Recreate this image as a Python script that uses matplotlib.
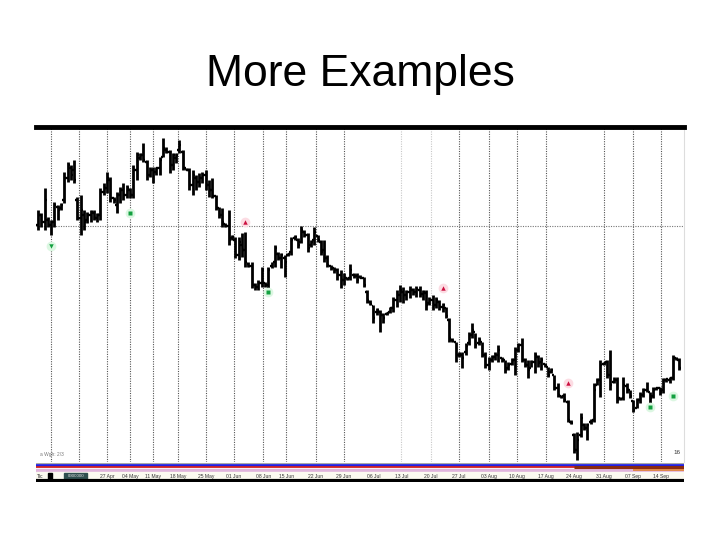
import matplotlib
matplotlib.use("Agg")
import matplotlib.pyplot as plt
from matplotlib.patches import Rectangle

plt.rcParams['font.family'] = ['Liberation Sans', 'DejaVu Sans']

# daily OHLC bars (price units)
highs = [39.0, 38.7, 41.2, 38.3, 38.0, 39.8, 39.5, 39.7, 42.8, 43.8,
         43.5, 44.0, 40.3, 40.5, 39.0, 38.8, 39.0, 39.0, 38.7, 41.2,
         41.7, 42.8, 42.3, 40.3, 40.8, 41.3, 41.7, 41.5, 41.2, 43.5,
         44.8, 44.7, 45.7, 44.0, 43.3, 43.3, 43.3, 44.3, 46.2, 45.3,
         45.0, 44.7, 44.7, 46.0, 45.0, 43.2, 43.2, 43.0, 42.5, 42.7,
         42.8, 43.0, 42.0, 42.2, 40.5, 39.3, 39.2, 37.7, 39.0, 36.5,
         36.3, 36.3, 36.7, 36.8, 33.8, 33.8, 31.7, 32.0, 33.3, 31.8,
         33.3, 33.8, 35.5, 34.8, 34.7, 34.5, 34.7, 36.3, 36.5, 36.2,
         37.4, 37.0, 36.7, 36.0, 37.3, 36.5, 36.0, 36.0, 34.5, 33.5,
         33.3, 33.2, 33.0, 32.7, 32.3, 33.6, 32.7, 32.7, 32.5, 32.3,
         31.0, 30.0, 29.5, 29.2, 29.0, 28.7, 28.8, 29.3, 30.3, 31.0,
         31.5, 31.3, 31.0, 31.4, 31.2, 31.4, 31.4, 31.0, 31.0, 30.3,
         30.5, 30.3, 30.0, 29.7, 29.3, 28.2, 26.2, 25.8, 24.8, 24.8,
         25.7, 26.8, 27.7, 26.7, 26.3, 25.8, 24.8, 24.3, 24.5, 24.8,
         25.5, 24.3, 24.0, 23.8, 24.2, 25.3, 25.7, 26.2, 24.2, 24.0,
         24.0, 24.8, 24.5, 24.3, 23.7, 23.3, 23.2, 22.5, 21.7, 20.5,
         20.7, 20.0, 18.0, 16.7, 16.8, 18.7, 17.7, 17.7, 18.1, 21.7,
         22.2, 24.0, 23.8, 24.0, 25.0, 22.3, 22.3, 20.3, 22.3, 21.7,
         21.0, 20.0, 20.2, 20.8, 21.2, 21.8, 20.8, 21.3, 21.3, 21.3,
         22.2, 22.2, 22.3, 24.5, 24.3, 24.2]
lows = [37.0, 37.3, 37.0, 37.3, 36.5, 37.3, 38.0, 39.0, 39.7, 41.8,
        42.0, 41.7, 38.0, 36.5, 37.0, 37.7, 37.8, 38.0, 37.8, 38.0,
        40.5, 40.7, 39.8, 39.7, 38.7, 39.7, 40.0, 40.2, 40.2, 40.2,
        42.0, 44.0, 43.8, 42.0, 42.3, 41.7, 42.5, 42.5, 44.3, 44.7,
        42.7, 43.0, 43.7, 44.7, 43.0, 43.0, 41.0, 40.5, 41.0, 41.3,
        41.7, 41.0, 40.3, 40.2, 39.0, 38.2, 37.3, 37.3, 35.5, 36.0,
        34.2, 34.0, 34.3, 33.3, 33.3, 31.2, 31.0, 31.0, 31.3, 31.3,
        30.7, 33.2, 33.3, 34.0, 33.2, 32.3, 34.4, 34.5, 36.0, 35.2,
        35.7, 36.3, 34.8, 35.3, 35.5, 35.8, 34.5, 33.8, 33.3, 33.0,
        32.7, 32.0, 31.2, 31.5, 32.0, 32.0, 32.2, 31.7, 32.2, 31.3,
        29.7, 29.5, 27.7, 28.5, 26.8, 27.7, 28.5, 28.7, 28.8, 29.3,
        29.8, 29.7, 30.0, 30.2, 30.5, 30.3, 30.3, 30.0, 29.0, 29.5,
        29.0, 29.2, 29.0, 28.8, 28.2, 25.8, 25.8, 23.8, 24.3, 23.2,
        24.5, 25.5, 26.2, 25.2, 25.5, 24.3, 23.2, 23.0, 23.8, 24.0,
        23.8, 23.8, 22.7, 23.0, 23.5, 22.5, 24.8, 23.8, 23.3, 22.2,
        23.3, 22.7, 23.3, 23.0, 23.3, 22.3, 22.7, 21.0, 20.3, 20.2,
        19.8, 17.8, 17.6, 14.7, 14.0, 16.3, 17.0, 16.0, 17.6, 17.8,
        21.5, 20.3, 23.5, 22.2, 21.0, 21.7, 19.7, 20.0, 20.0, 20.7,
        20.2, 18.8, 19.2, 19.7, 20.3, 20.8, 19.5, 20.2, 21.0, 20.5,
        20.7, 21.8, 21.7, 22.0, 24.0, 23.0]
opens = [37.5, 38.5, 37.8, 38.0, 37.5, 37.8, 39.3, 39.2, 40.0, 42.2,
         43.2, 43.0, 40.0, 38.2, 38.5, 38.0, 38.5, 38.7, 38.2, 38.5,
         40.8, 41.2, 42.0, 40.2, 39.5, 40.5, 41.0, 40.5, 41.0, 40.5,
         43.0, 44.2, 44.5, 43.8, 42.5, 43.0, 42.8, 43.2, 44.3, 45.0,
         44.8, 43.5, 44.2, 45.0, 44.8, 43.2, 43.0, 41.5, 42.2, 41.8,
         42.2, 42.5, 41.5, 41.0, 40.4, 39.2, 38.5, 37.6, 37.4, 36.2,
         36.0, 34.5, 35.5, 35.0, 33.6, 33.4, 31.5, 31.3, 31.7, 31.7,
         31.5, 33.4, 33.8, 34.6, 34.2, 34.2, 34.5, 34.8, 36.2, 36.0,
         35.8, 36.8, 36.5, 35.5, 36.0, 36.4, 35.8, 35.0, 34.2, 33.4,
         33.2, 33.0, 32.5, 32.0, 32.2, 32.2, 32.5, 32.4, 32.3, 32.2,
         30.8, 29.8, 29.4, 28.8, 28.8, 28.5, 28.6, 28.8, 29.2, 30.0,
         30.5, 30.8, 30.5, 30.8, 31.0, 30.8, 31.0, 30.6, 30.7, 29.7,
         30.0, 29.5, 29.8, 29.3, 29.2, 28.0, 26.0, 25.8, 24.5, 24.5,
         24.8, 25.7, 26.5, 26.8, 25.7, 25.8, 24.5, 23.5, 24.0, 24.3,
         24.5, 24.2, 24.0, 23.2, 23.6, 24.0, 25.0, 25.5, 24.0, 23.5,
         23.2, 23.8, 24.3, 23.8, 23.6, 23.3, 22.8, 22.5, 21.2, 20.4,
         20.4, 19.8, 17.8, 16.5, 15.0, 16.5, 17.5, 17.2, 17.8, 18.0,
         21.5, 22.0, 23.6, 23.8, 22.5, 21.8, 22.0, 20.2, 20.2, 21.4,
         21.0, 19.9, 19.2, 20.0, 20.5, 21.0, 20.8, 20.4, 21.1, 21.2,
         21.0, 22.0, 22.0, 22.2, 24.2, 24.0]
closes = [38.5, 37.8, 40.0, 37.5, 37.8, 39.5, 39.0, 39.5, 42.2, 43.5,
          42.5, 42.0, 38.2, 39.0, 37.8, 38.5, 38.8, 38.2, 38.5, 40.8,
          41.2, 42.2, 40.2, 40.0, 40.5, 41.0, 40.5, 41.2, 40.5, 43.0,
          44.5, 44.5, 44.0, 42.5, 43.0, 42.8, 43.2, 44.0, 45.2, 44.8,
          43.5, 44.5, 44.5, 45.5, 43.2, 43.0, 41.5, 42.5, 41.8, 42.2,
          42.5, 41.5, 41.0, 40.4, 39.2, 38.5, 37.8, 37.4, 36.0, 36.3,
          34.5, 35.8, 35.0, 33.8, 33.4, 31.5, 31.3, 31.7, 33.0, 31.5,
          33.0, 33.6, 35.2, 34.2, 34.5, 33.8, 34.6, 36.0, 36.3, 35.5,
          37.0, 36.5, 35.2, 35.8, 36.8, 36.0, 34.8, 34.2, 33.5, 33.2,
          33.0, 32.5, 32.0, 32.2, 32.1, 33.0, 32.4, 32.0, 32.2, 31.5,
          30.0, 29.6, 28.2, 29.0, 28.5, 28.2, 28.7, 29.2, 30.0, 30.5,
          31.0, 30.5, 30.8, 31.0, 30.8, 31.1, 30.6, 30.8, 29.5, 30.0,
          29.5, 30.0, 29.3, 29.5, 28.4, 26.2, 25.9, 24.5, 24.6, 24.2,
          25.4, 26.5, 27.0, 25.5, 26.0, 24.5, 23.5, 24.0, 24.3, 24.5,
          25.0, 24.0, 23.0, 23.5, 24.0, 25.0, 25.5, 24.0, 23.5, 23.0,
          23.8, 24.5, 23.7, 24.0, 23.4, 22.5, 23.0, 21.2, 20.5, 20.3,
          20.0, 18.0, 17.7, 15.0, 16.0, 18.2, 17.2, 17.5, 17.9, 21.0,
          22.0, 23.5, 23.7, 22.5, 21.5, 22.0, 20.0, 20.1, 21.5, 21.0,
          20.4, 19.0, 20.0, 20.5, 21.0, 21.5, 20.2, 21.0, 21.2, 20.8,
          22.0, 22.1, 22.2, 24.2, 24.1, 23.2]

# signal arrows: bar index, price, kind
sig_bar = [4, 28, 63, 70, 123, 161, 186, 193]
sig_price = [35.4, 38.7, 37.8, 30.8, 31.2, 21.7, 19.3, 20.4]
sig_kind = ['buy_v', 'buy', 'sell', 'buy', 'sell', 'sell', 'buy', 'buy']

# weekly grid (bar positions) and their date labels
week_pos = [4, 12.5, 21, 28, 35, 42.5, 51, 59.5, 68.5, 75.5, 84.5, 93, 102,
            110.5, 119.5, 128, 137, 145.5, 154.5, 163, 172, 181, 189.5]
week_labels = ['', '', '27 Apr', '04 May', '11 May', '18 May', '25 May',
               '01 Jun', '08 Jun', '15 Jun', '22 Jun', '29 Jun', '06 Jul',
               '13 Jul', '20 Jul', '27 Jul', '03 Aug', '10 Aug', '17 Aug',
               '24 Aug', '31 Aug', '07 Sep', '14 Sep']
hidden_weeks = ['06 Jul', '24 Aug']
faint_weeks = ['13 Jul', '20 Jul']
price_grid = 37.4

fig = plt.figure(figsize=(7.2, 5.4), dpi=100)
fig.text(0.5, 1 - 86 / 540, 'More Examples', ha='center', va='baseline',
         fontsize=32, color='black')

ax = fig.add_axes([36 / 720, 1 - 462 / 540, 648 / 720, 335 / 540])
xmin, xmax = -0.6, 196.4
ax.set_xlim(xmin, xmax)
ax.set_ylim(13.8, 47.3)

# grid
for p, lab in zip(week_pos, week_labels):
    if lab in hidden_weeks:
        continue
    col = '#c8c8c8' if lab in faint_weeks else '#555555'
    ax.axvline(p, color=col, lw=0.8, ls=(0, (1, 1.2)), zorder=1)
ax.axhline(price_grid, color='#777777', lw=0.8, ls=(0, (1, 1.2)), zorder=1)

# OHLC bars
xs = list(range(len(highs)))
ax.vlines(xs, lows, highs, color='black', lw=2.0, zorder=3)
ax.hlines(opens, [x - 0.6 for x in xs], xs, color='black', lw=1.7, zorder=3)
ax.hlines(closes, xs, [x + 0.6 for x in xs], color='black', lw=1.7, zorder=3)

# signals
for b, p, k in zip(sig_bar, sig_price, sig_kind):
    if k == 'sell':
        ax.plot(b, p, 'o', ms=7, color='#fcdce3', mec='none', zorder=4)
        ax.plot(b, p, '^', ms=3.2, color='#cc1040', mec='none', zorder=5)
    else:
        mk = 'v' if k == 'buy_v' else 's'
        ax.plot(b, p, 'o', ms=7, color='#dcf7e2', mec='none', zorder=4)
        ax.plot(b, p, mk, ms=3.2, color='#13a040', mec='none', zorder=5)

ax.set_xticks([])
ax.set_yticks([])
for s in ['left', 'bottom']:
    ax.spines[s].set_visible(False)
ax.spines['right'].set_color('#dddddd')
ax.spines['right'].set_linewidth(0.8)
ax.spines['top'].set_color('black')
ax.spines['top'].set_linewidth(3.5)

ax.text(0.006, 0.015, 'a Wgh: 2/3', transform=ax.transAxes, fontsize=3.5,
        color='#777777', va='bottom')
ax.text(0.995, 0.02, '16', transform=ax.transAxes, fontsize=4.5,
        color='#333333', ha='right', va='bottom')

# indicator strip and date row
ax2 = fig.add_axes([36 / 720, 1 - 482 / 540, 648 / 720, 20 / 540])
ax2.set_xlim(xmin, xmax)
ax2.set_ylim(482, 462)
ax2.axis('off')
ax2.axhline(462.5, color='#999999', lw=0.6)
ax2.axhline(464.5, color='#2020e0', lw=2.0)
ax2.axhline(467.3, color='#d02020', lw=1.3)
ax2.axhspan(468.5, 471.5, color='#e0b4dc')
ax2.axhspan(472, 479.5, color='#fbfaf0')
ax2.hlines(467.3, 163, xmax, color='#8a2a10', lw=2.2)
ax2.hlines(470, 181, xmax, color='#e08030', lw=1.2)
ax2.axhline(480.8, color='black', lw=3)
for p, lab in zip(week_pos, week_labels):
    if lab:
        ax2.text(p, 476, lab, fontsize=3.6, color='#333333',
                 ha='center', va='center')
ax2.text(-0.3, 476, 'Tic', fontsize=3.6, color='#333333', va='center')
ax2.add_patch(Rectangle((3, 472.5), 1.3, 6.5, color='black'))
ax2.add_patch(Rectangle((8, 472.5), 7, 6.5, color='#2f4f4f'))
ax2.text(11.5, 476, '0000000', fontsize=3.2, color='#dddddd',
         ha='center', va='center')

fig.savefig('out.png', dpi=100)
